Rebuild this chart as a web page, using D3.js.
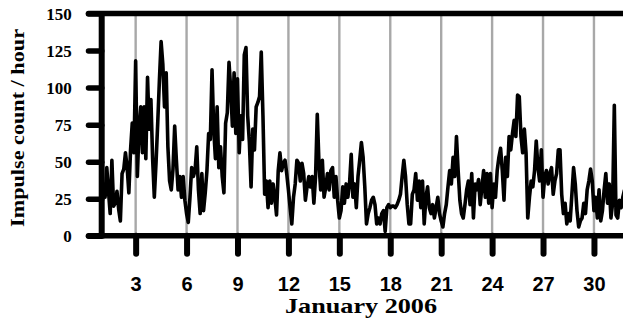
<!DOCTYPE html>
<html><head><meta charset="utf-8">
<script src="https://cdn.jsdelivr.net/npm/d3@7"></script>
<style>html,body{margin:0;padding:0;background:#fff;overflow:hidden}</style>
</head><body>
<svg id="chart" width="623" height="325"></svg>
<script>
// Time series: one value every 0.1 day, starting at Jan 1, 00:00 (day 1.0)
const startDay = 1;
const stepDays = 0.1;
const counts = [
  28, 35,
  26,46,30,15,51,20,22,30,18,10,
  42,45,56,46,29,58,76,56,118,40,
  72,87,56,87,52,107,72,92,52,26,
  49,76,105,131,116,87,110,60,37,31,
  45,74,51,31,40,26,40,24,15,9,
  26,46,40,44,60,31,15,42,17,29,
  44,69,65,112,72,52,87,46,60,40,
  29,76,83,117,99,74,
  110,69,106,56,81,65,122,127,81,63,
  33,72,58,87,90,94,124,81,28,37,
  19,37,22,35,26,14,44,56,44,49,
  51,42,31,19,8,26,35,51,49,37,
  49,42,24,33,40,33,40,22,40,82,
  49,31,51,26,33,42,31,44,46,26,
  40,24,12,17,33,22,35,26,35,55,
  26,35,
  19,40,51,63,53,33,8,15,19,24,
  26,21,8,12,8,15,17,3,19,21,
  19,20,20,19,21,24,28,40,51,40,
  21,8,8,28,31,42,24,37,19,37,
  8,26,33,19,15,21,12,19,26,15,
  10,6,15,21,33,44,35,53,40,67,
  44,24,15,12,21,31,37,21,42,12,
  35,31,38,21,33,44,
  26,42,22,42,19,35,26,44,53,59,
  44,24,53,40,67,58,69,78,67,95,
  94,67,56,72,56,12,26,37,33,44,
  64,46,37,58,26,40,44,35,42,46,
  28,37,42,58,58,28,15,22,8,15,
  10,28,46,35,17,6,10,12,22,15,
  31,37,45,37,17,26,12,31,10,17,
  31,42,22,35,12,22,88,14,12,24,
  19,26,31
];
const xTickDays = [3, 6, 9, 12, 15, 18, 21, 24, 27, 30];
const yTickValues = [0, 25, 50, 75, 100, 125, 150];
const xAxisTitle = "January 2006";
const yAxisTitle = "Impulse count / hour";

const SERIF = '"Liberation Serif", "Times New Roman", Times, serif';
const SANS = '"Liberation Sans", Arial, Helvetica, sans-serif';

const svg = d3.select('#chart');
const W = 623, H = 325;
svg.append('rect').attr('width', W).attr('height', H).attr('fill', '#fff');

const x = d3.scaleLinear().domain([1, 32]).range([101.7, 627.9]);
const y = d3.scaleLinear().domain([0, 150]).range([235.8, 13.5]);

const data = counts.map((v, i) => ({ day: startDay + i * stepDays, v }));

// gridlines
svg.append('g').selectAll('line').data(xTickDays).join('line')
  .attr('x1', d => x(d)).attr('x2', d => x(d))
  .attr('y1', y(150)).attr('y2', y(0))
  .attr('stroke', '#a8a8a8').attr('stroke-width', 2.4);

// data line
const line = d3.line().x(d => x(d.day)).y(d => y(d.v));
svg.append('path').datum(data)
  .attr('d', line)
  .attr('fill', 'none').attr('stroke', '#000')
  .attr('stroke-width', 3.6).attr('stroke-linejoin', 'round');

// y axis
const yAxis = svg.append('g').attr('transform', `translate(${x(1)},0)`)
  .call(d3.axisLeft(y).tickValues(yTickValues).tickSize(13.2).tickFormat(d3.format('d')))
  .attr('font-family', SERIF).attr('font-size', 17).attr('font-weight', 'bold');
yAxis.select('.domain').remove();
yAxis.selectAll('.tick line').attr('stroke', '#000').attr('stroke-width', 5.5).attr('stroke-linecap', 'round');
yAxis.selectAll('.tick text')
  .attr('x', -30).attr('dy', null).attr('y', 5.6)
  .attr('fill', '#000')
  .style('font-family', SERIF)
  .style('font-weight', 'bold').style('font-size', '17px');

// x axis
const xAxis = svg.append('g').attr('transform', `translate(0,${y(0)})`)
  .call(d3.axisBottom(x).tickValues(xTickDays).tickSize(17.9).tickFormat(d3.format('d')))
  .attr('font-family', SANS).attr('font-size', 20).attr('font-weight', 'bold');
xAxis.select('.domain').remove();
xAxis.selectAll('.tick line').attr('stroke', '#000').attr('stroke-width', 6).attr('stroke-linecap', 'round');
xAxis.selectAll('.tick text')
  .attr('y', 55.4).attr('dy', null)
  .attr('fill', '#000')
  .style('font-family', SANS)
  .style('font-weight', 'bold').style('font-size', '20px');

// frame lines: left, bottom, top
svg.append('line').attr('x1', x(1)).attr('x2', x(1)).attr('y1', y(150) - 2.5).attr('y2', y(0) + 2.5)
  .attr('stroke', '#000').attr('stroke-width', 6);
svg.append('line').attr('x1', 88.5).attr('x2', W + 10).attr('y1', y(0)).attr('y2', y(0))
  .attr('stroke', '#000').attr('stroke-width', 5.5).attr('stroke-linecap', 'round');
svg.append('line').attr('x1', 88.5).attr('x2', W + 10).attr('y1', y(150)).attr('y2', y(150))
  .attr('stroke', '#000').attr('stroke-width', 5.5).attr('stroke-linecap', 'round');

// titles
svg.append('text').text(xAxisTitle)
  .attr('x', 361).attr('y', 313).attr('text-anchor', 'middle')
  .attr('textLength', 152).attr('lengthAdjust', 'spacingAndGlyphs')
  .style('font-family', SERIF)
  .style('font-weight', 'bold').style('font-size', '21px');
svg.append('text').text(yAxisTitle)
  .attr('transform', 'translate(24,128) rotate(-90)')
  .attr('text-anchor', 'middle')
  .attr('textLength', 198).attr('lengthAdjust', 'spacingAndGlyphs')
  .style('font-family', SERIF)
  .style('font-weight', 'bold').style('font-size', '18px');
</script>
</body></html>
